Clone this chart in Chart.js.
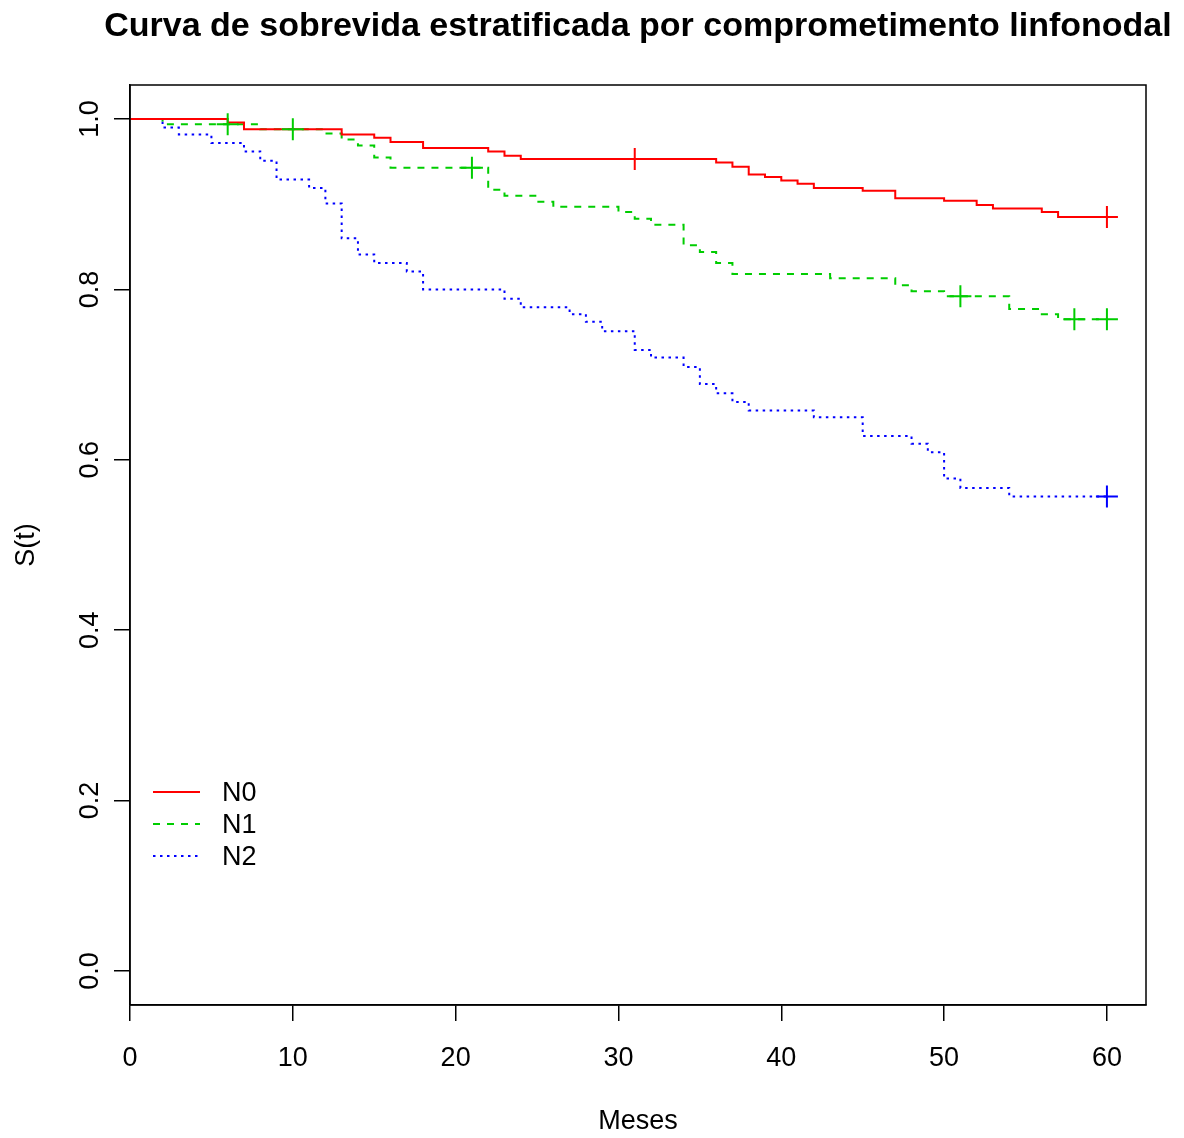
<!DOCTYPE html>
<html>
<head>
<meta charset="utf-8">
<script src="https://cdn.jsdelivr.net/npm/chart.js@4.4.1/dist/chart.umd.min.js"></script>
<style>
  html, body { margin: 0; padding: 0; background: #ffffff; }
  #wrap { width: 1184px; height: 1138px; }
</style>
</head>
<body>
<div id="wrap"><canvas id="c" width="1184" height="1138"></canvas></div>
<script>
// ---- Data ----
const chartTitle = "Curva de sobrevida estratificada por comprometimento linfonodal";
const xLabel = "Meses";
const yLabel = "S(t)";
const groupNames = ["N0", "N1", "N2"];

const n0Times = [0, 6, 7, 13, 15, 16, 18, 22, 23, 24, 36, 37, 38, 39, 40, 41, 42, 45, 47, 50, 52, 53, 56, 57, 60];
const n0Surv  = [1.0, 0.996, 0.988, 0.982, 0.978, 0.973, 0.966, 0.962, 0.957, 0.953, 0.949, 0.944, 0.935, 0.932, 0.928, 0.924, 0.919, 0.916, 0.907, 0.904, 0.899, 0.895, 0.891, 0.885, 0.885];

const n1Times = [0, 2, 8, 12, 13, 14, 15, 16, 22, 23, 25, 26, 30, 31, 32, 34, 35, 36, 37, 43, 47, 48, 50, 54, 56, 57, 60];
const n1Surv  = [1.0, 0.994, 0.988, 0.983, 0.976, 0.969, 0.955, 0.943, 0.917, 0.910, 0.903, 0.897, 0.891, 0.883, 0.876, 0.852, 0.844, 0.831, 0.818, 0.813, 0.805, 0.798, 0.792, 0.777, 0.771, 0.765, 0.765];

const n2Times = [0, 2, 3, 5, 7, 8, 9, 11, 12, 13, 14, 15, 17, 18, 23, 24, 27, 28, 29, 31, 32, 34, 35, 36, 37, 38, 42, 45, 48, 49, 50, 51, 54, 60];
const n2Surv  = [1.0, 0.990, 0.982, 0.972, 0.962, 0.951, 0.929, 0.919, 0.901, 0.860, 0.841, 0.831, 0.821, 0.800, 0.789, 0.779, 0.771, 0.762, 0.751, 0.729, 0.720, 0.709, 0.689, 0.678, 0.668, 0.658, 0.650, 0.628, 0.619, 0.609, 0.578, 0.567, 0.557, 0.557];

const n0CensTimes = [31, 60];
const n0CensSurv  = [0.953, 0.885];
const n1CensTimes = [6, 10, 21, 51, 58, 60];
const n1CensSurv  = [0.994, 0.988, 0.943, 0.792, 0.765, 0.765];
const n2CensTimes = [60];
const n2CensSurv  = [0.557];

const xTicks = [0, 10, 20, 30, 40, 50, 60];
const yTicks = [0.0, 0.2, 0.4, 0.6, 0.8, 1.0];
const yTickLabels = ["0.0", "0.2", "0.4", "0.6", "0.8", "1.0"];

// ---- Styles ----
const colors = ["#FF0000", "#00CD00", "#0000FF"];
const dashes = [[], [7, 7], [2.5, 4.5]];
const FONT = "'Liberation Sans', Arial, Helvetica, sans-serif";
const AXFS = 27;
const TITLEFS = 34;

function pts(t, s) { return t.map((v, i) => ({ x: v, y: s[i] })); }

const curves = [pts(n0Times, n0Surv), pts(n1Times, n1Surv), pts(n2Times, n2Surv)];
const cens = [pts(n0CensTimes, n0CensSurv), pts(n1CensTimes, n1CensSurv), pts(n2CensTimes, n2CensSurv)];

const datasets = [];
curves.forEach((d, i) => {
  datasets.push({
    type: 'line', label: groupNames[i], data: d, stepped: true,
    borderColor: colors[i], borderWidth: 2, borderDash: dashes[i],
    pointRadius: 0, fill: false, tension: 0, order: 2
  });
});
cens.forEach((d, i) => {
  datasets.push({
    type: 'line', label: groupNames[i] + ' censor', data: d, showLine: false,
    pointStyle: 'cross', pointRadius: 11, pointBorderWidth: 2,
    borderColor: colors[i], pointBorderColor: colors[i], backgroundColor: colors[i],
    order: 1
  });
});

const CA = { left: 130, right: 1146, top: 85, bottom: 1005 };

const boxPlugin = {
  id: 'boxPlugin',
  afterDraw(chart) {
    const { ctx, chartArea: a } = chart;
    ctx.save();
    ctx.strokeStyle = '#000';
    ctx.lineWidth = 1.5;
    ctx.strokeRect(a.left, a.top, a.right - a.left, a.bottom - a.top);
    // title, centred over the plot box
    ctx.fillStyle = '#000';
    ctx.font = 'bold ' + TITLEFS + 'px ' + FONT;
    ctx.textAlign = 'center';
    ctx.textBaseline = 'middle';
    ctx.fillText(chartTitle, (a.left + a.right) / 2, 27);
    // legend
    const lx0 = 153, lx1 = 200, tx = 222, ys = [792, 824, 856];
    ctx.font = AXFS + 'px ' + FONT;
    ctx.textBaseline = 'middle';
    ctx.textAlign = 'left';
    groupNames.forEach((name, i) => {
      const ds = chart.data.datasets[i];
      ctx.strokeStyle = ds.borderColor;
      ctx.lineWidth = ds.borderWidth;
      ctx.setLineDash(ds.borderDash);
      ctx.beginPath();
      ctx.moveTo(lx0, ys[i]);
      ctx.lineTo(lx1, ys[i]);
      ctx.stroke();
      ctx.setLineDash([]);
      ctx.fillStyle = '#000';
      ctx.fillText(name, tx, ys[i] + 2);
    });
    ctx.restore();
  }
};

new Chart(document.getElementById('c'), {
  data: { datasets },
  options: {
    responsive: false,
    animation: false,
    devicePixelRatio: 1,
    layout: { padding: { left: 0, right: 1184 - CA.right, top: CA.top, bottom: 0 } },
    plugins: {
      legend: { display: false },
      tooltip: { enabled: false },
      title: { display: false }
    },
    scales: {
      x: {
        type: 'linear', min: 0, max: 62.4,
        afterBuildTicks(s) { s.ticks = xTicks.map(v => ({ value: v })); },
        afterFit(s) { s.height = 1138 - CA.bottom; },
        grid: { display: true, drawOnChartArea: false, drawTicks: true, tickLength: 16, color: '#000', lineWidth: 1.5 },
        border: { display: true, color: '#000', width: 1.5 },
        ticks: { color: '#000', font: { family: FONT, size: AXFS }, padding: 21, maxRotation: 0, autoSkip: false,
                 callback: (v) => String(v) },
        title: { display: true, text: xLabel, color: '#000', font: { family: FONT, size: AXFS }, padding: { top: 0, bottom: 0 } }
      },
      y: {
        type: 'linear', min: -0.04, max: 1.04,
        afterBuildTicks(s) { s.ticks = yTicks.map(v => ({ value: v })); },
        afterFit(s) { s.width = CA.left; },
        grid: { display: true, drawOnChartArea: false, drawTicks: true, tickLength: 16, color: '#000', lineWidth: 1.5 },
        border: { display: true, color: '#000', width: 1.5 },
        ticks: { color: '#000', font: { family: FONT, size: AXFS }, padding: 5, minRotation: 90, maxRotation: 90,
                 crossAlign: 'center', autoSkip: false,
                 callback: (v) => { const k = yTicks.findIndex(t => Math.abs(t - v) < 1e-9); return k >= 0 ? yTickLabels[k] : ''; } },
        title: { display: true, text: yLabel, color: '#000', font: { family: FONT, size: AXFS }, padding: { top: 10, bottom: 0 } }
      }
    }
  },
  plugins: [boxPlugin]
});
</script>
</body>
</html>
